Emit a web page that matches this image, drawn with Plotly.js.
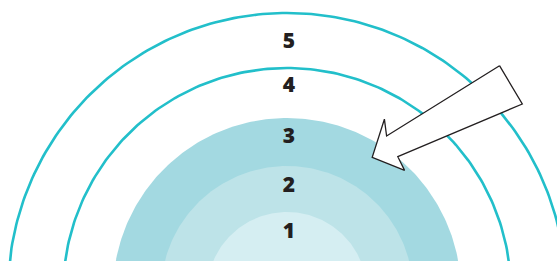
<!DOCTYPE html>
<html>
<head>
<meta charset="utf-8">
<script src="https://cdn.plot.ly/plotly-3.0.1.min.js"></script>
<style>html,body{margin:0;padding:0;background:#fff;}#chart{width:557px;height:261px;}</style>
</head>
<body>
<div id="chart"></div>
<script>
// ---- data ----
const levels = ["1", "2", "3", "4", "5"];
const levelRadius = [80, 126, 174, 224, 279];          // radius of each level boundary
const levelFilled = [true, true, true, false, false];  // filled bands vs outlined rings
const levelColor = ["#d5eef2", "#bde3e8", "#a3d9e1", "#22bfca", "#22bfca"];
const labelRadius = [59, 105, 154, 205, 249];
// block arrow outline
const arrowX = [499.5, 522.3, 397.8, 404.6, 372.2, 384.4, 386.6, 499.5];
const arrowY = [65.7, 104.0, 156.7, 170.4, 157.3, 119.2, 136.0, 65.7];

// ---- geometry ----
const cx = 287, cy = 292;
function circle(r) {
  const xs = [], ys = [];
  for (let d = 0; d <= 360; d += 1) {
    const t = d * Math.PI / 180;
    xs.push(cx + r * Math.cos(t));
    ys.push(cy - r * Math.sin(t));
  }
  return {xs, ys};
}

const traces = [];
// filled bands, largest first
const order = levels.map((_, i) => i).filter(i => levelFilled[i]).sort((a, b) => levelRadius[b] - levelRadius[a]);
order.forEach(i => {
  const c = circle(levelRadius[i]);
  traces.push({type: "scatter", mode: "lines", x: c.xs, y: c.ys, fill: "toself",
    fillcolor: levelColor[i], line: {width: 0, color: levelColor[i]}, hoverinfo: "skip"});
});
levels.forEach((_, i) => {
  if (levelFilled[i]) return;
  const c = circle(levelRadius[i]);
  traces.push({type: "scatter", mode: "lines", x: c.xs, y: c.ys,
    line: {width: 2.6, color: levelColor[i]}, hoverinfo: "skip"});
});
traces.push({type: "scatter", mode: "lines", x: arrowX, y: arrowY, fill: "toself",
  fillcolor: "#ffffff", line: {width: 1.3, color: "#231f20"}, hoverinfo: "skip"});
traces.push({type: "scatter", mode: "text",
  x: levels.map(() => cx + 2), y: labelRadius.map(r => cy - r),
  text: levels, textposition: "middle center",
  textfont: {family: "'Open Sans', Roboto, sans-serif", size: 21, weight: 800, color: "#231f20"},
  hoverinfo: "skip"});

const layout = {
  width: 557, height: 261,
  margin: {l: 0, r: 0, t: 0, b: 0, pad: 0},
  paper_bgcolor: "#ffffff", plot_bgcolor: "#ffffff",
  showlegend: false, hovermode: false,
  xaxis: {range: [0, 557], visible: false, fixedrange: true},
  yaxis: {range: [261, 0], visible: false, fixedrange: true}
};
Plotly.newPlot("chart", traces, layout, {staticPlot: true, displayModeBar: false});
</script>
</body>
</html>
